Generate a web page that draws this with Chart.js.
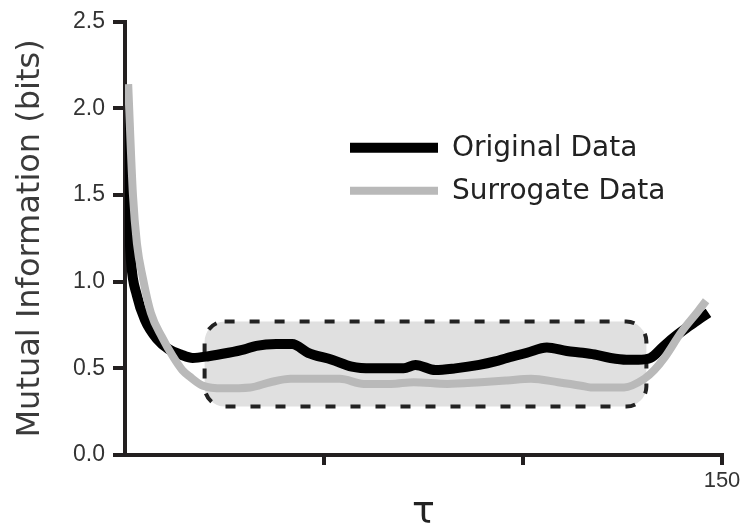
<!DOCTYPE html>
<html>
<head>
<meta charset="utf-8">
<script src="https://cdn.jsdelivr.net/npm/chart.js@4.4.1/dist/chart.umd.min.js"></script>
<style>
  html, body { margin: 0; padding: 0; background: #fff; }
  #wrap { width: 745px; height: 532px; }
</style>
</head>
<body>
<div id="wrap"><canvas id="mi-chart"></canvas></div>
<script>
// data
const tauOriginal = [0, 0.7, 1.5, 3, 5, 8, 11, 14, 17, 21, 26, 30, 33, 38, 42, 46, 52, 57, 62, 67, 70, 73, 78, 83, 89, 93, 96, 101, 106, 111, 115, 118, 122, 126, 129, 132, 135, 138, 141.5, 144, 146.6];
const miOriginal = [2.0, 1.5, 1.12, 0.92, 0.78, 0.67, 0.61, 0.58, 0.56, 0.57, 0.59, 0.61, 0.63, 0.64, 0.64, 0.59, 0.55, 0.51, 0.5, 0.5, 0.5, 0.52, 0.49, 0.5, 0.52, 0.54, 0.56, 0.59, 0.62, 0.6, 0.59, 0.58, 0.56, 0.55, 0.55, 0.56, 0.62, 0.68, 0.74, 0.78, 0.82];

const tauSurrogate = [0.8, 2, 3, 4.5, 6.5, 9.3, 12, 14.4, 16.4, 19.6, 24.7, 31.5, 36.5, 41.6, 48, 54, 60, 66.8, 72.5, 81, 89.4, 96, 102, 108.8, 114.6, 117, 125.4, 130.5, 133, 135.5, 139.8, 144, 146];
const miSurrogate = [2.14, 1.5, 1.22, 1.02, 0.82, 0.68, 0.57, 0.49, 0.45, 0.4, 0.385, 0.39, 0.42, 0.44, 0.44, 0.44, 0.41, 0.41, 0.42, 0.41, 0.42, 0.43, 0.44, 0.42, 0.4, 0.39, 0.39, 0.44, 0.49, 0.56, 0.71, 0.83, 0.89];

const xTickLabels = { 150: "150" };
// shaded region (tau range, MI range)
const boxTau = [20, 131];
const boxMI = [0.28, 0.77];

const axisColor = "#231f20";
const textColor = "#333";

const toPoints = (xs, ys) => xs.map((x, i) => ({ x: x, y: ys[i] }));

// draws the dashed rounded box behind the curves
const boxPlugin = {
  id: "boxPlugin",
  beforeDatasetsDraw(chart) {
    const { ctx, scales } = chart;
    const x0 = scales.x.getPixelForValue(boxTau[0]);
    const x1 = scales.x.getPixelForValue(boxTau[1]);
    const y0 = scales.y.getPixelForValue(boxMI[1]);
    const y1 = scales.y.getPixelForValue(boxMI[0]);
    ctx.save();
    ctx.beginPath();
    ctx.roundRect(x0, y0, x1 - x0, y1 - y0, 20);
    ctx.fillStyle = "#e0e0e0";
    ctx.fill();
    ctx.setLineDash([10, 15]);
    ctx.lineWidth = 4;
    ctx.strokeStyle = "#222";
    ctx.stroke();
    ctx.restore();
  },
};

// legend drawn inside the plot
const insideLegend = {
  id: "insideLegend",
  afterDatasetsDraw(chart) {
    const { ctx, chartArea } = chart;
    ctx.save();
    chart.data.datasets.forEach((ds, i) => {
      const y = chartArea.top + 126 + i * 43;
      ctx.beginPath();
      ctx.moveTo(chartArea.left + 225, y);
      ctx.lineTo(chartArea.left + 313, y);
      ctx.lineWidth = ds.borderWidth;
      ctx.strokeStyle = ds.borderColor;
      ctx.lineCap = "butt";
      ctx.stroke();
      ctx.fillStyle = "#222";
      ctx.font = "28px 'DejaVu Sans'";
      ctx.textBaseline = "middle";
      ctx.fillText(ds.label, chartArea.left + 327, y + 1);
    });
    ctx.restore();
  },
};

new Chart(document.getElementById("mi-chart"), {
  type: "line",
  data: {
    datasets: [
      {
        label: "Original Data",
        data: toPoints(tauOriginal, miOriginal),
        borderColor: "#000",
        borderWidth: 10,
        order: 2,
      },
      {
        label: "Surrogate Data",
        data: toPoints(tauSurrogate, miSurrogate),
        borderColor: "#b9b9b9",
        borderWidth: 8,
        order: 1,
      },
    ],
  },
  options: {
    responsive: true,
    maintainAspectRatio: false,
    animation: false,
    layout: { padding: { top: 21, right: 23, left: 11 } },
    elements: {
      point: { radius: 0 },
      line: { cubicInterpolationMode: "monotone", capBezierPoints: true },
    },
    plugins: { legend: { display: false }, tooltip: { enabled: false } },
    scales: {
      x: {
        type: "linear",
        min: 0,
        max: 150,
        border: { color: axisColor, width: 4 },
        grid: {
          drawOnChartArea: false,
          tickLength: 10,
          lineWidth: 4,
          color: (c) => (c.tick && c.tick.value === 0 ? "rgba(0,0,0,0)" : axisColor),
        },
        ticks: {
          stepSize: 50,
          padding: 3,
          maxRotation: 0,
          color: textColor,
          font: { family: "Liberation Sans", size: 22 },
          callback: (v) => xTickLabels[v] || "",
        },
        title: {
          display: true,
          text: "τ",
          color: "#222",
          padding: { top: 0, bottom: 0 },
          font: { family: "DejaVu Sans", size: 38, lineHeight: 1 },
        },
        afterFit(scale) { scale.height = 77; },
      },
      y: {
        min: 0,
        max: 2.5,
        border: { color: axisColor, width: 4 },
        grid: { drawOnChartArea: false, tickLength: 12, lineWidth: 4, color: axisColor },
        ticks: {
          stepSize: 0.5,
          padding: 8,
          color: textColor,
          font: { family: "Liberation Sans", size: 23 },
          callback: (v) => v.toFixed(1),
        },
        title: {
          display: true,
          text: "Mutual Information (bits)",
          color: "#3a3a3a",
          padding: 0,
          font: { family: "DejaVu Sans", size: 32 },
        },
        afterFit(scale) { scale.width = 114; },
      },
    },
  },
  plugins: [boxPlugin, insideLegend],
});
</script>
</body>
</html>
